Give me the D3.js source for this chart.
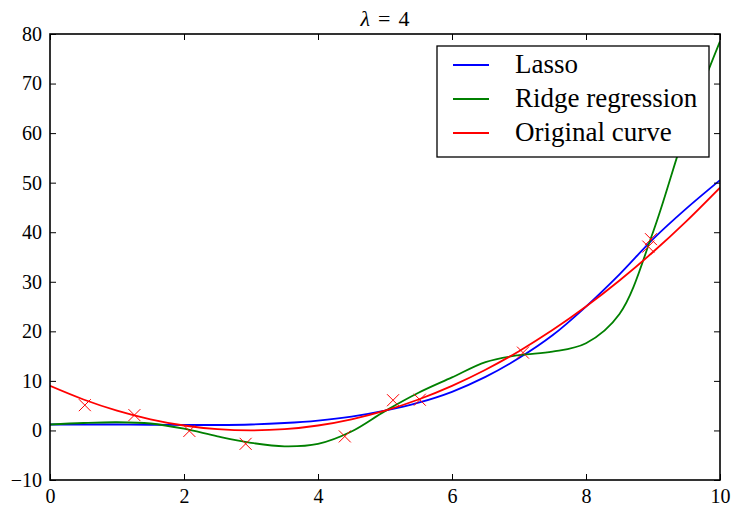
<!DOCTYPE html>
<html>
<head>
<meta charset="utf-8">
<script src="https://cdn.jsdelivr.net/npm/d3@7"></script>
<style>
  body { margin: 0; background: #fff; }
  text { font-family: "Liberation Serif", serif; fill: #000; }
</style>
</head>
<body>
<div id="chart"></div>
<script>
// sampled x positions for the curves
const xs = [0, 0.5, 1, 1.5, 2, 2.5, 3, 3.5, 4, 4.5, 5, 5.5, 6, 6.5, 7, 7.5, 8, 8.5, 9, 9.5, 10];
const lasso = [1.2, 1.2, 1.2, 1.15, 1.1, 1.1, 1.2, 1.5, 2.0, 2.8, 4.0, 5.6, 7.8, 10.8, 14.6, 19.2, 25.0, 31.5, 38.6, 44.8, 50.5];
const ridge = [1.2, 1.5, 1.65, 1.4, 0.35, -1.2, -2.5, -3.2, -2.7, -0.2, 3.9, 7.6, 10.7, 13.8, 15.2, 15.9, 17.6, 23.5, 40.0, 61.0, 78.5];
const original = [9, 6.25, 4, 2.25, 1, 0.25, 0, 0.25, 1, 2.25, 4, 6.25, 9, 12.25, 16, 20.25, 25, 30.25, 36, 42.25, 49];

// noisy sample points (red crosses)
const sampleX = [0.52, 1.26, 2.08, 2.92, 4.40, 5.12, 5.52, 7.06, 8.93, 8.97];
const sampleY = [5.1, 3.1, -0.1, -2.7, -1.2, 6.1, 6.2, 15.7, 37.1, 38.6];

const xTicks = [0, 2, 4, 6, 8, 10];
const yTicks = [-10, 0, 10, 20, 30, 40, 50, 60, 70, 80];

const series = [
  { name: "Lasso", values: lasso, color: "#0000ff" },
  { name: "Ridge regression", values: ridge, color: "#008000" },
  { name: "Original curve", values: original, color: "#ff0000" }
];

const width = 733;
const height = 507;
const margin = { top: 34, right: 13, bottom: 27, left: 50 };
const serif = "'Liberation Serif', serif";

const svg = d3
  .select("#chart")
  .append("svg")
  .attr("width", width)
  .attr("height", height);

const x = d3.scaleLinear().domain([0, 10]).range([margin.left, width - margin.right]);
const y = d3.scaleLinear().domain([-10, 80]).range([height - margin.bottom, margin.top]);

svg.append("clipPath").attr("id", "clip")
  .append("rect")
  .attr("x", margin.left).attr("y", margin.top)
  .attr("width", x(10) - x(0)).attr("height", y(-10) - y(80));

// curves
const line = d3.line()
  .x((d) => x(d[0]))
  .y((d) => y(d[1]))
  .curve(d3.curveCatmullRom.alpha(0.5));

const plot = svg.append("g").attr("clip-path", "url(#clip)");

series.forEach((s) => {
  plot.append("path")
    .datum(xs.map((v, i) => [v, s.values[i]]))
    .attr("fill", "none")
    .attr("stroke", s.color)
    .attr("stroke-width", 1.8)
    .attr("d", line);
});

// crosses
const r = 6;
plot.append("g")
  .selectAll("path")
  .data(sampleX.map((v, i) => [v, sampleY[i]]))
  .enter()
  .append("path")
  .attr("d", (d) => {
    const cx = x(d[0]), cy = y(d[1]);
    return `M${cx - r},${cy - r}L${cx + r},${cy + r}M${cx - r},${cy + r}L${cx + r},${cy - r}`;
  })
  .attr("stroke", "#ff0000")
  .attr("stroke-width", 1)
  .attr("fill", "none");

// axes (ticks inside on all four sides)
const tickLen = 6;
const fmt = (d) => (d < 0 ? "\u2212" + Math.abs(d) : String(d));

const axBottom = svg.append("g").attr("transform", `translate(0,${y(-10)})`)
  .call(d3.axisBottom(x).tickValues(xTicks).tickSizeInner(-tickLen).tickSizeOuter(0).tickPadding(9).tickFormat(fmt));
const axTop = svg.append("g").attr("transform", `translate(0,${y(80)})`)
  .call(d3.axisTop(x).tickValues(xTicks).tickSizeInner(-tickLen).tickSizeOuter(0).tickFormat(""));
const axLeft = svg.append("g").attr("transform", `translate(${x(0)},0)`)
  .call(d3.axisLeft(y).tickValues(yTicks).tickSizeInner(-tickLen).tickSizeOuter(0).tickPadding(8).tickFormat(fmt));
const axRight = svg.append("g").attr("transform", `translate(${x(10)},0)`)
  .call(d3.axisRight(y).tickValues(yTicks).tickSizeInner(-tickLen).tickSizeOuter(0).tickFormat(""));

[axBottom, axTop, axLeft, axRight].forEach((g) => {
  g.attr("font-family", serif).attr("font-size", 20);
  g.select(".domain").remove();
  g.selectAll("line").attr("stroke", "#000").attr("stroke-width", 1);
  g.selectAll("text").attr("fill", "#000");
});

svg.append("rect")
  .attr("x", x(0)).attr("y", y(80))
  .attr("width", x(10) - x(0)).attr("height", y(-10) - y(80))
  .attr("fill", "none").attr("stroke", "#000").attr("stroke-width", 1.6);

// title
const title = svg.append("text")
  .attr("x", (x(0) + x(10)) / 2)
  .attr("y", 26)
  .attr("text-anchor", "middle")
  .attr("font-family", serif)
  .attr("font-size", 22);
title.append("tspan").style("font-style", "italic").text("λ");
title.append("tspan").attr("dx", 8).text("=");
title.append("tspan").attr("dx", 8).text("4");

// legend
const legend = svg.append("g").attr("transform", "translate(437,46)");
legend.append("rect")
  .attr("width", 272).attr("height", 111)
  .attr("fill", "#fff").attr("stroke", "#000").attr("stroke-width", 1.3);

const item = legend.selectAll("g.item")
  .data(series)
  .enter()
  .append("g")
  .attr("class", "item")
  .attr("transform", (d, i) => `translate(0,${19 + i * 34})`);

item.append("line")
  .attr("x1", 16).attr("x2", 52)
  .attr("stroke", (d) => d.color)
  .attr("stroke-width", 1.8);

item.append("text")
  .attr("x", 78)
  .attr("y", 8)
  .attr("font-family", serif)
  .attr("font-size", 27)
  .text((d) => d.name);
</script>
</body>
</html>
